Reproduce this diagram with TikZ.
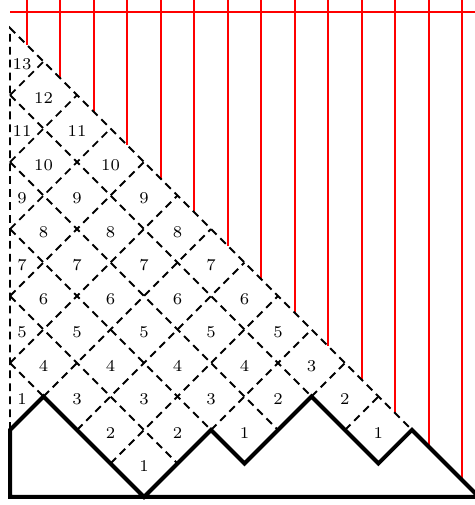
\documentclass[tikz,border=0pt]{standalone}
\usepackage{tikz}
\begin{document}
\begin{tikzpicture}[
  x=5mm, y=5mm,
  dyck/.style={line width=1.7pt, line join=miter},
  lattice/.style={dash pattern=on 3.3pt off 2.2pt, thick},
  guide/.style={red, thick},
  num/.style={font=\scriptsize, inner sep=1pt, yshift=-1.2pt},
]
\useasboundingbox (-0.3,-0.24) rectangle (13.88,14.84);

% red guide lines
\draw[guide] (0,14.48) -- (14.2,14.48);
\foreach \k in {0,...,13}
  \draw[guide] (\k+0.5,15) -- (\k+0.5,13.5-\k);

% dashed lattice
\draw[lattice] (0,2) -- (0,14) -- (12,2);
\foreach \a/\b in {4/1, 6/5, 8/6, 10/8, 12/9}
  \draw[lattice] (0,\a) -- (\b,\a-\b);
\draw[lattice] (1,3) -- (6,8);
\draw[lattice] (0,4) -- (5,9);
\draw[lattice] (0,6) -- (4,10);
\draw[lattice] (0,8) -- (3,11);
\draw[lattice] (0,10) -- (2,12);
\draw[lattice] (0,12) -- (1,13);
\draw[lattice] (2,2) -- (7,7);
\draw[lattice] (3,1) -- (8,6);
\draw[lattice] (6,2) -- (9,5);
\draw[lattice] (9,3) -- (10,4);
\draw[lattice] (10,2) -- (11,3);

% the path
\draw[dyck] (0,0) -- (0,2) -- (1,3) -- (4,0) -- (6,2) -- (7,1) -- (9,3)
  -- (11,1) -- (12,2) -- (14,0) -- cycle;

% cell labels
\foreach \y/\t in {3/1, 5/5, 7/7, 9/9, 11/11, 13/13}
  \node[num] (n0-\y) at (0.36,\y) {\t};
\foreach \x/\y/\t in {1/4/4, 1/6/6, 1/8/8, 1/10/10, 1/12/12,
                      2/3/3, 2/5/5, 2/7/7, 2/9/9, 2/11/11,
                      3/2/2, 3/4/4, 3/6/6, 3/8/8, 3/10/10,
                      4/1/1, 4/3/3, 4/5/5, 4/7/7, 4/9/9,
                      5/2/2, 5/4/4, 5/6/6, 5/8/8,
                      6/3/3, 6/5/5, 6/7/7,
                      7/2/1, 7/4/4, 7/6/6,
                      8/3/2, 8/5/5,
                      9/4/3, 10/3/2, 11/2/1}
  \node[num] (n\x-\y) at (\x,\y) {\t};
\end{tikzpicture}
\end{document}
